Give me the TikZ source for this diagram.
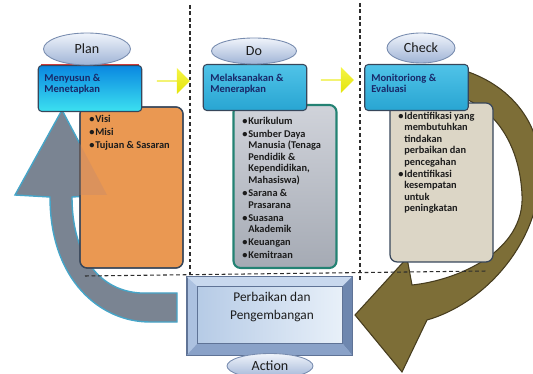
\documentclass[tikz,border=0pt]{standalone}
\usepackage{fontspec}
\setmainfont{Carlito}
\usetikzlibrary{shapes.geometric,shapes.arrows}

\definecolor{planblueA}{RGB}{10,135,225}
\definecolor{planblueB}{RGB}{60,225,240}
\definecolor{planred}{RGB}{205,60,60}
\definecolor{cyanA}{RGB}{80,195,232}
\definecolor{cyanB}{RGB}{40,165,210}
\definecolor{headnavy}{RGB}{25,40,105}
\definecolor{orangefill}{RGB}{234,152,82}
\definecolor{orangeshade}{RGB}{219,146,92}
\definecolor{slateline}{RGB}{55,70,90}
\definecolor{greyA}{RGB}{208,211,218}
\definecolor{greyB}{RGB}{165,170,180}
\definecolor{tealline}{RGB}{35,130,115}
\definecolor{beigefill}{RGB}{220,214,198}
\definecolor{oliveband}{RGB}{125,110,55}
\definecolor{oliveedge}{RGB}{70,60,30}
\definecolor{slategrey}{RGB}{122,132,146}
\definecolor{arrowedge}{RGB}{70,165,200}
\definecolor{dashgrey}{RGB}{45,45,45}
\definecolor{yellowA}{RGB}{245,245,70}
\definecolor{yellowB}{RGB}{228,228,10}
\definecolor{ovalA}{RGB}{240,244,251}
\definecolor{ovalB}{RGB}{160,180,214}
\definecolor{ovaledge}{RGB}{120,140,175}
\definecolor{bevtopc}{RGB}{200,216,238}
\definecolor{bevleftc}{RGB}{172,193,224}
\definecolor{bevrightc}{RGB}{110,135,175}
\definecolor{bevbotc}{RGB}{138,162,200}
\definecolor{bevedge}{RGB}{95,115,150}
\definecolor{faceA}{RGB}{182,203,230}
\definecolor{faceB}{RGB}{232,240,249}
\definecolor{inkdark}{RGB}{28,28,28}

\newcommand{\pitem}{\makebox[3.4pt][l]{\textbullet}}
\newcommand{\pcont}{\hspace*{3.4pt}}

\begin{document}
\begin{tikzpicture}[
    x = 0.02cm,
    y = -0.02cm,
    phase/.style = {ellipse, shading=axis, top color=ovalA, bottom color=ovalB,
    draw=ovaledge, line width=0.5pt, inner sep=0pt,
    font=\fontsize{8}{9}\selectfont, text=inkdark},
    headbox/.style = {rectangle, rounded corners=2pt, minimum width=2.07cm,
    minimum height=0.92cm, draw=slateline, line width=0.6pt, shading=axis},
    listbox/.style = {rectangle, rounded corners=4pt, minimum width=2.06cm,
    draw=slateline, line width=0.7pt},
    headtext/.style = {anchor=north west, inner sep=0pt, align=left, text=headnavy,
    font=\bfseries\fontsize{6}{6.4}\selectfont},
    listtext/.style = {anchor=north west, inner sep=0pt, align=left,
    text=inkdark, font=\bfseries\fontsize{5.9}{6.6}\selectfont},
    yarrow/.style = {single arrow, minimum height=0.66cm, minimum width=0.52cm,
    single arrow head extend=0.12cm, inner sep=0pt, shading=axis,
    top color=yellowA, bottom color=yellowB, draw=none},
    dashline/.style = {draw=dashgrey, line width=0.6pt, dash pattern=on 2.2pt off 1.5pt},
]

\useasboundingbox (0,0) rectangle (533,374);
\clip (0,0) rectangle (533,374);

\fill[fill=slategrey, draw=arrowedge, line width=0.8pt] (177,293) -- (140,293)
    .. controls (95,290) and (72,250) .. (72,197) -- (107,195) -- (62,110)
    -- (15,195) -- (50,197) .. controls (50,280) and (100,322) .. (150,322)
    -- (177,322) -- cycle;
\fill[fill=oliveband, draw=oliveedge, line width=0.6pt] (455,68)
    .. controls (505,80) and (545,120) .. (540,180)
    .. controls (535,250) and (480,305) .. (427,320) -- (402,372) -- (355,315)
    -- (407,258) -- (412,285) .. controls (460,280) and (525,250) .. (522,195)
    .. controls (520,150) and (500,115) .. (468,100) -- cycle;

\draw[dashline] (190,5) -- (190,277);
\draw[dashline] (360,3) -- (360,280);
\draw[dashline] (85,276) -- (487,271);

\node[listbox, minimum height=3.22cm, fill=orangefill] (plan_list) at (131.5,187.5) {};
\begin{scope}
\clip[rounded corners=4pt] (plan_list.north west) rectangle (plan_list.south east);
\fill[orangeshade] (107,195) -- (62,110) -- (15,195) -- cycle;
\end{scope}
\node[listbox, minimum height=3.22cm] (plan_frame) at (131.5,187.5) {};
\node[listbox, minimum height=3.26cm, shading=axis, top color=greyA, bottom color=greyB,
    draw=tealline, line width=1.2pt] (do_list) at (285,186.5) {};
\node[listbox, minimum height=3.18cm, fill=beigefill] (check_list) at (441.5,182.5) {};

\node[headbox, top color=planblueA, bottom color=planblueB] (plan_head) at (90,88.5) {};
\draw[planred, line width=0.6pt]
    ([xshift=2pt]plan_head.north west) -- ([xshift=-2pt]plan_head.north east);
\node[headbox, top color=cyanA, bottom color=cyanB] (do_head) at (255,87.5) {};
\node[headbox, top color=cyanA, bottom color=cyanB] (check_head) at (416.5,87.5) {};

\node[headtext] (plan_head_txt) at (44,74) {Menyusun \&\\Menetapkan};
\node[headtext] (do_head_txt) at (210,74) {Melaksanakan \&\\Menerapkan};
\node[headtext] (check_head_txt) at (371,74) {Monitoriong \&\\Evaluasi};

\node[listtext] (plan_items) at (89,114.5) {\pitem Visi\\[0.8pt]
    \pitem Misi\\[0.8pt]
    \pitem Tujuan \& Sasaran};
\node[listtext] (do_items) at (242,116.5) {\pitem Kurikulum\\[0.8pt]
    \pitem Sumber Daya\\ \pcont Manusia (Tenaga\\ \pcont Pendidik \&\\
    \pcont Kependidikan,\\ \pcont Mahasiswa)\\[0.8pt]
    \pitem Sarana \&\\ \pcont Prasarana\\[0.8pt]
    \pitem Suasana\\ \pcont Akademik\\[0.8pt]
    \pitem Keuangan\\[0.8pt]
    \pitem Kemitraan};
\node[listtext] (check_items) at (398,111.5) {\pitem Identifikasi yang\\
    \pcont membutuhkan\\ \pcont tindakan\\ \pcont perbaikan dan\\
    \pcont pencegahan\\ \pitem Identifikasi\\ \pcont kesempatan\\
    \pcont untuk\\ \pcont peningkatan};

\node[yarrow] (arrow_1) at (173,81) {};
\node[yarrow] (arrow_2) at (337,80) {};

\node[phase, minimum width=1.74cm, minimum height=0.64cm] (plan_oval) at (87,49) {Plan};
\node[phase, minimum width=1.70cm, minimum height=0.52cm] (do_oval) at (254,51) {Do};
\node[phase, minimum width=1.36cm, minimum height=0.60cm] (check_oval) at (421,48) {Check};

\node[rectangle, minimum width=3.30cm, minimum height=1.56cm, fill=bevleftc,
    draw=bevedge, line width=0.6pt] (act_box) at (269.5,316) {};
\node[rectangle, minimum width=2.88cm, minimum height=1.12cm, inner sep=0pt]
    (act_face) at (270,315) {};
\fill[bevtopc] (act_box.north west) -- (act_box.north east) -- (act_face.north east)
    -- (act_face.north west) -- cycle;
\fill[bevrightc] (act_box.north east) -- (act_box.south east) -- (act_face.south east)
    -- (act_face.north east) -- cycle;
\fill[bevbotc] (act_box.south west) -- (act_box.south east) -- (act_face.south east)
    -- (act_face.south west) -- cycle;
\draw[bevedge, line width=0.6pt] (act_box.north west) rectangle (act_box.south east);
\shade[left color=faceA, right color=faceB, draw=bevedge, line width=0.4pt]
    (act_face.north west) rectangle (act_face.south east);
\node[align=center, inner sep=0pt, text=inkdark,
    font=\fontsize{7.6}{10.8}\selectfont] (act_txt) at (272,307)
    {Perbaikan dan\\Pengembangan};

\node[phase, minimum width=1.72cm, minimum height=0.50cm] (act_oval) at (270,366) {Action};
\end{tikzpicture}
\end{document}
